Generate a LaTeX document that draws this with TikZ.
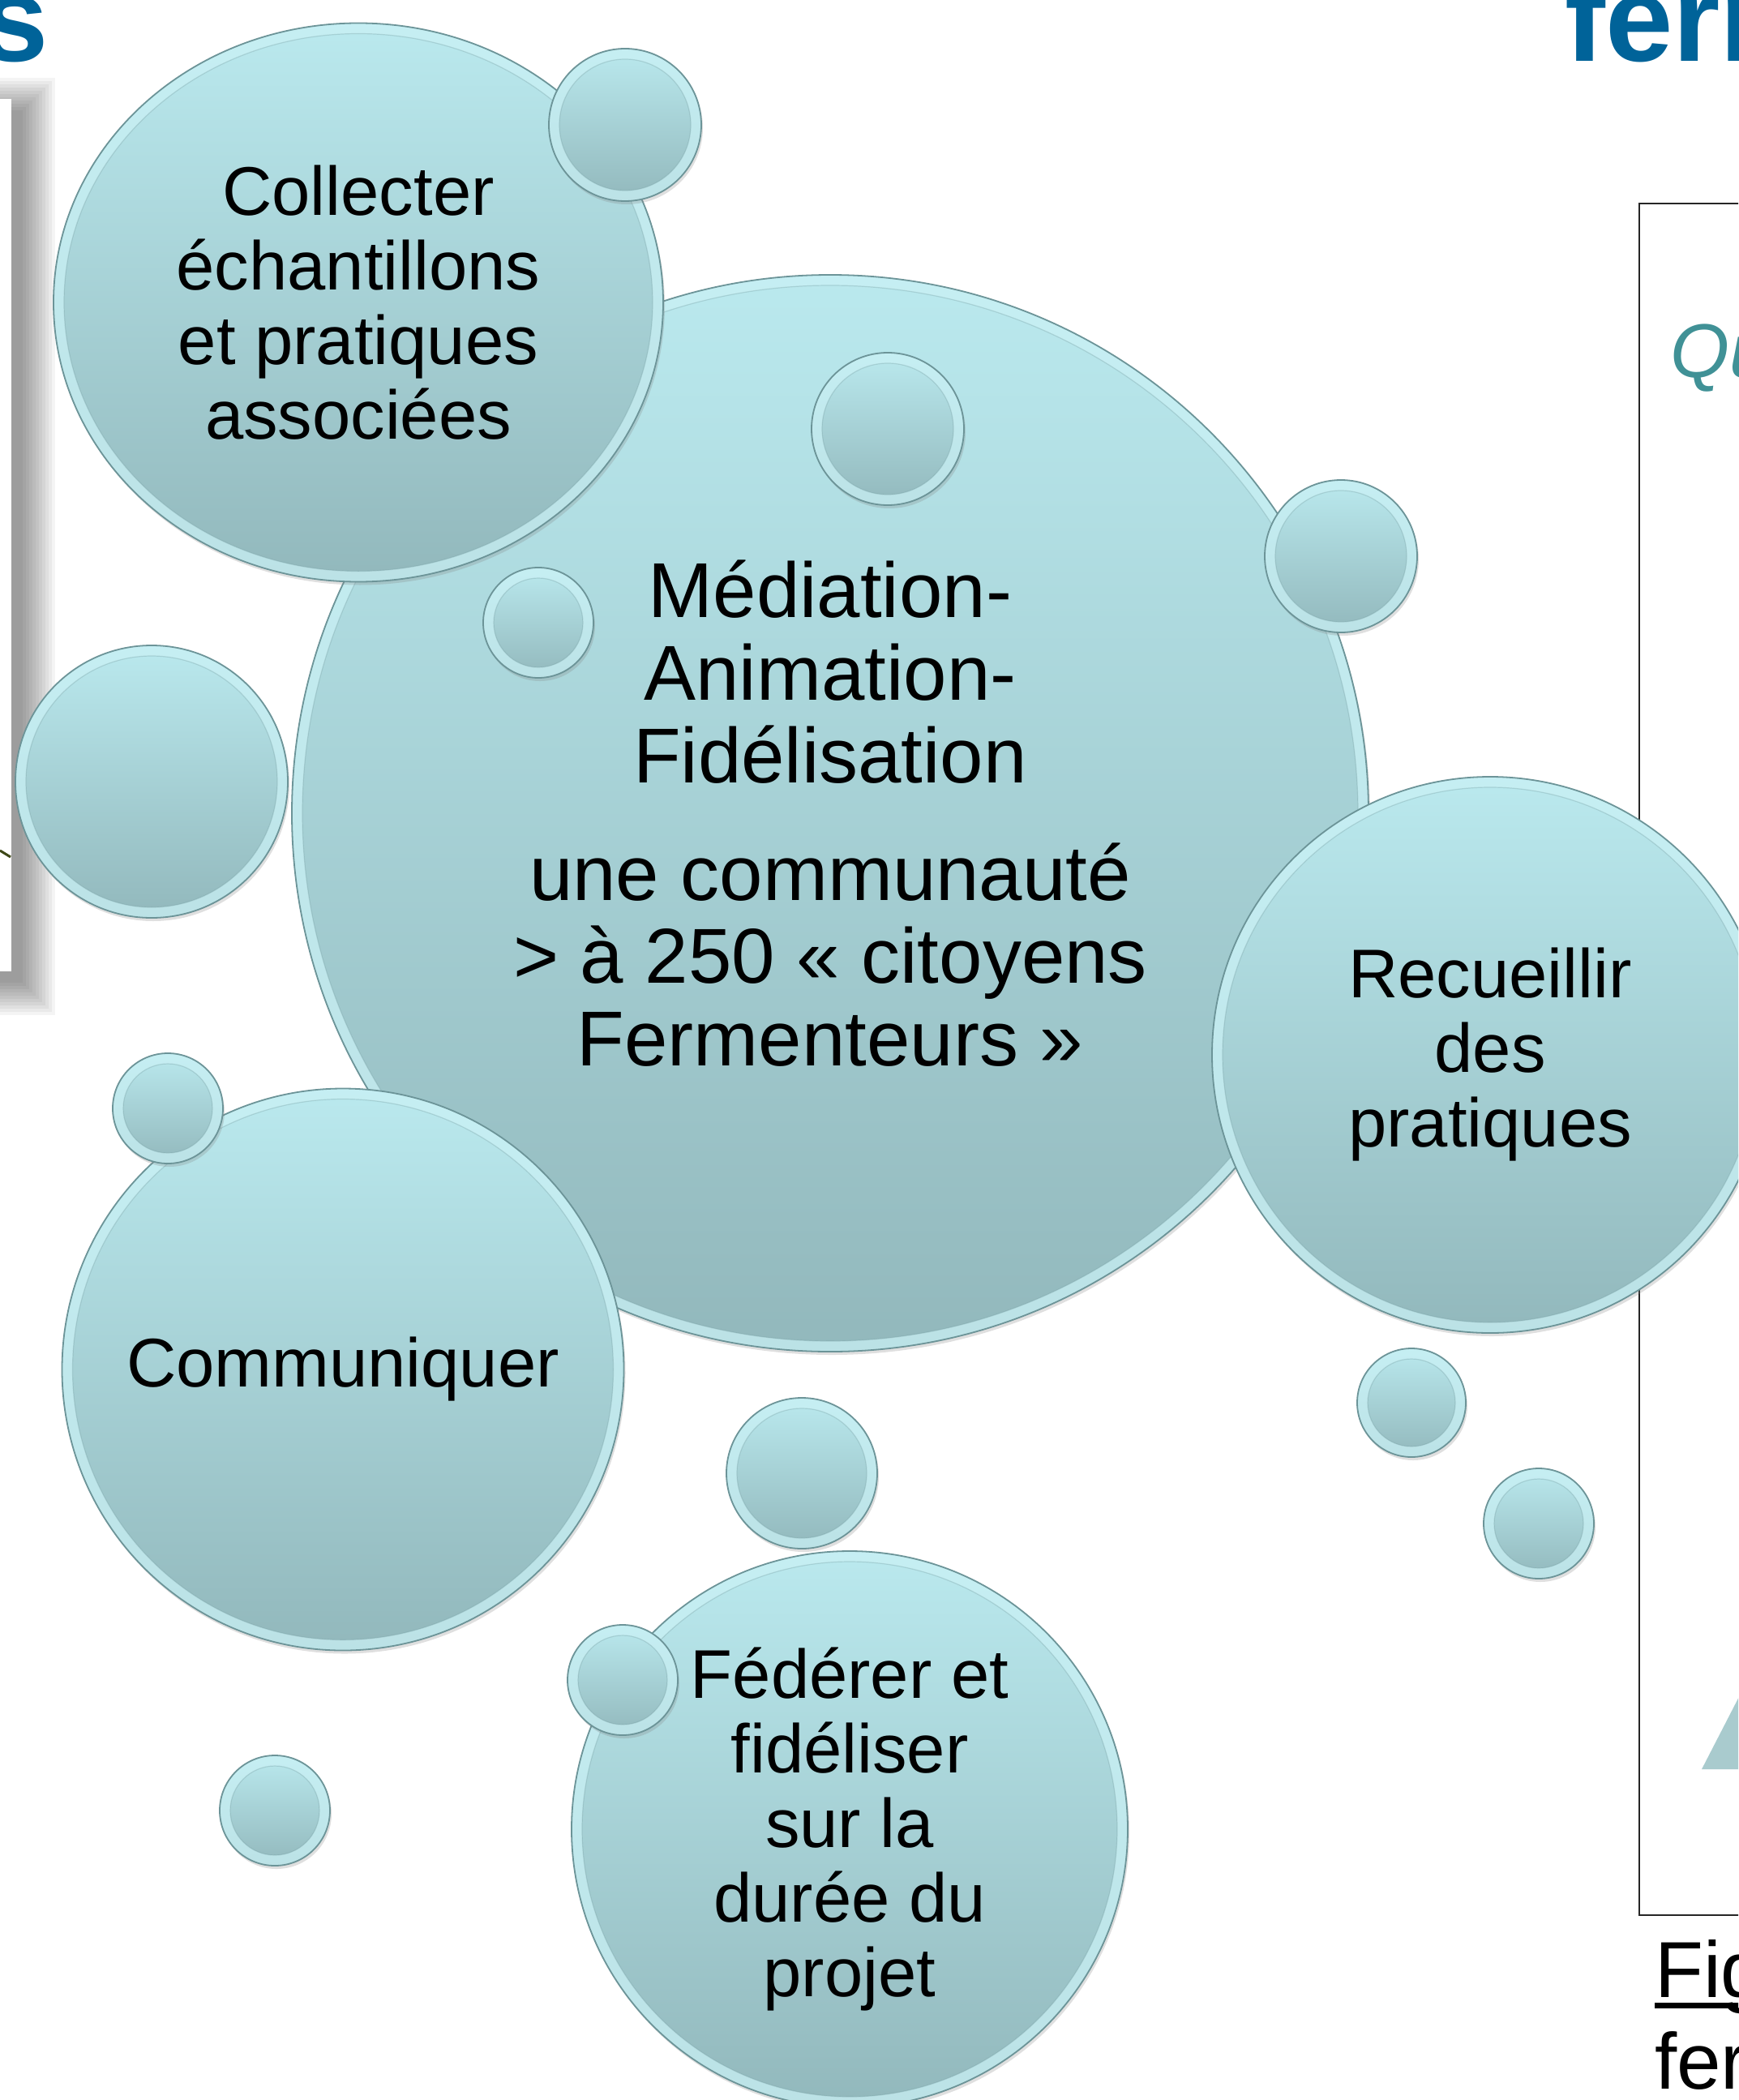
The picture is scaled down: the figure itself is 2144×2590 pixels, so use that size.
\documentclass[tikz,border=0pt]{standalone}
\usepackage{fontspec}
\setmainfont{Liberation Sans}
\usetikzlibrary{shapes.geometric,shadows,calc}
\definecolor{bubtop}{RGB}{186,233,238}
\definecolor{bubbot}{RGB}{146,184,188}
\definecolor{bubedge}{RGB}{108,148,152}
\definecolor{bubrim}{RGB}{202,241,245}
\definecolor{titleblue}{RGB}{0,99,153}
\definecolor{tealtxt}{RGB}{64,145,150}
\definecolor{trifill}{RGB}{169,203,206}
\tikzset{
  bubble/.style={ellipse, inner sep=0pt, align=center, draw=bubedge, line width=1.8pt,
    top color=bubtop, bottom color=bubbot,
    drop shadow={opacity=.25, shadow xshift=2pt, shadow yshift=-4pt},
    path picture={
      \draw[bubrim, line width=26pt, opacity=.75]
        let \p1=(path picture bounding box.north east), \p2=(path picture bounding box.center)
        in (\p2) ellipse [x radius=\x1-\x2, y radius=\y1-\y2];
      \draw[bubedge, line width=1.2pt, opacity=.3]
        let \p1=(path picture bounding box.north east), \p2=(path picture bounding box.center)
        in (\p2) ellipse [x radius=\x1-\x2-13pt, y radius=\y1-\y2-13pt];
    }},
  bub/.style={bubble, circle, minimum size=#1},
  bubtext/.style={font=\fontsize{85}{92}\selectfont},
  title/.style={anchor=base, inner sep=0pt, text=titleblue, font=\bfseries\fontsize{150}{160}\selectfont},
  caption/.style={anchor=base west, inner sep=0pt, font=\fontsize{98}{113}\selectfont}
}
\begin{document}
\begin{tikzpicture}[x=1pt,y=-1pt]
\useasboundingbox (0,0) rectangle (2144,2590);
\clip (0,0) rectangle (2144,2590);
% page background around the diagram
\foreach \k in {0,...,10}
  \fill[black, opacity=.042] (-100-4*\k,136-4*\k) rectangle (28+4*\k,1212+4*\k);
\fill[white] (-100,122) rectangle (14,1198);
\draw[line width=3pt, color={rgb,255:red,62;green,72;blue,24}] (0,1049) -- (13,1057);
\draw[line width=2.5pt, black!85] (2200,251) -- (2022,251) -- (2022,2362) -- (2200,2362);
\fill[trifill] (2099,2182) -- (2167,2050) -- (2300,2182) -- cycle;
\node (qtxt) [anchor=base west, inner sep=0pt, text=tealtxt, font=\itshape\fontsize{94}{110}\selectfont] at (2060,465) {Qu};
\node (titleL) [title, anchor=base east] at (60,76) {s};
\node (titleR) [title, anchor=base west] at (1930,76) {ferm};
\node (fig) [caption] at (2041,2463) {Fig};
\node (figb) [caption] at (2041,2576) {fer};
\draw[line width=7pt] ([yshift=-10pt]fig.base west) -- ([yshift=-10pt,xshift=60pt]fig.base east);

% bubbles
\node (media) [bub=1328pt, font=\fontsize{96}{102}\selectfont] at (1024,1003)
  {Médiation-\\Animation-\\Fidélisation\\[43pt]une communauté\\> à 250 «~citoyens\\Fermenteurs~»};
\node (bLeft) [bub=336pt] at (187,964) {};
\node (collect) [bubble, bubtext, minimum width=752pt, minimum height=689pt] at (442,373)
  {Collecter\\échantillons\\et pratiques\\associées};
\node (bTop) [bub=188pt] at (771,154) {};
\node (bMid) [bub=188pt] at (1095,529) {};
\node (bRight) [bub=188pt] at (1654,686) {};
\node (bSmall) [bub=136pt] at (664,768) {};
\node (recueil) [bub=686pt, bubtext] at (1838,1301) {Recueillir\\des\\pratiques};
\node (commun) [bub=693pt, bubtext] at (423,1689) {Communiquer};
\node (bCom) [bub=136pt] at (207,1367) {};
\node (bLow) [bub=186pt] at (989,1817) {};
\node (bR1) [bub=134pt] at (1741,1730) {};
\node (bR2) [bub=136pt] at (1898,1879) {};
\node (federer) [bub=686pt, bubtext] at (1048,2256)
  {Fédérer et\\fidéliser\\sur la\\durée du\\projet};
\node (bFed) [bub=136pt] at (768,2072) {};
\node (bBL) [bub=136pt] at (339,2233) {};
\end{tikzpicture}
\end{document}
